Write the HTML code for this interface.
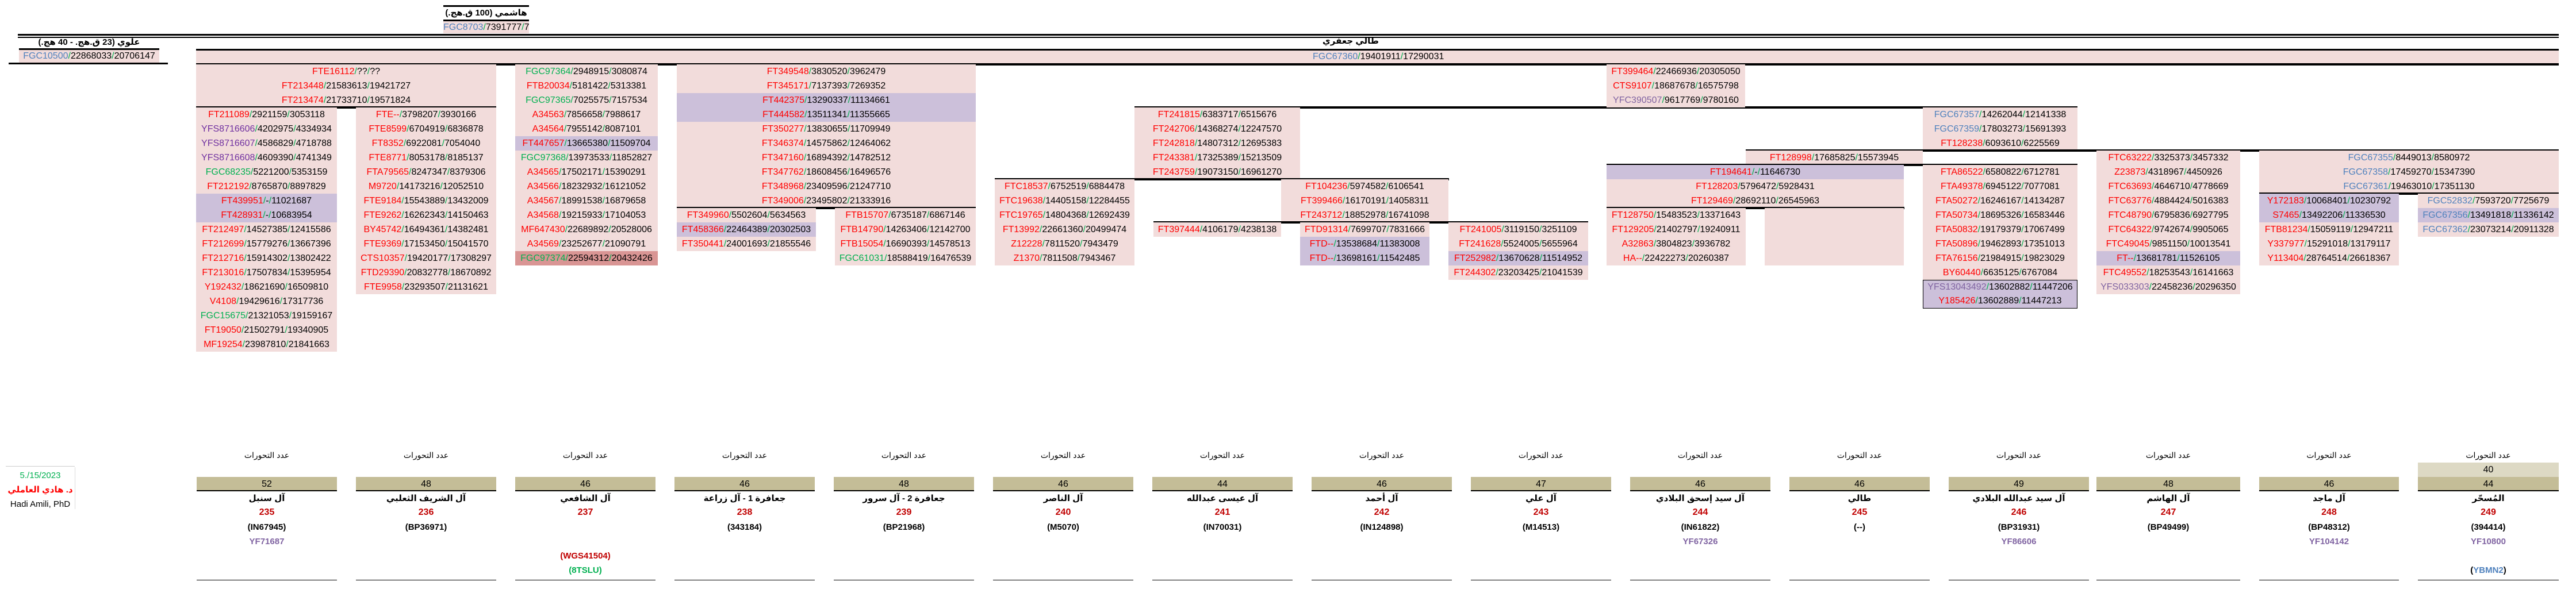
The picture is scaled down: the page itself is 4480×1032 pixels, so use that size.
<!DOCTYPE html>
<html><head><meta charset="utf-8">
<style>
*{margin:0;padding:0;box-sizing:border-box}
body{width:4480px;height:1032px;background:#fff;position:relative;overflow:hidden;font-family:"Liberation Sans","DejaVu Sans",sans-serif;color:#000}
.b{position:absolute;background:#f2dcdb;font-size:16px;text-align:center}
.b div{height:25px;line-height:25px;white-space:nowrap;overflow:hidden}
.b div.l{background:#ccc0da}
.b div.d{background:#d99594}
.h{position:absolute;height:4px;background:#000}
i{font-style:normal;color:#ff0000}
i.p{color:#7030a0}i.q{color:#8064a2}i.u{color:#4f81bd}i.g{color:#00b050}
s{text-decoration:none;color:#00b050}
.ar{position:absolute;font-weight:bold;font-size:15px;text-align:center;white-space:nowrap}
.col{position:absolute;width:244px;top:780px;height:230px;text-align:center}
.col .t{position:absolute;top:4px;width:100%;font-size:14px}
.col .n{position:absolute;top:50px;width:100%;height:25px;line-height:25px;background:#c4bd97;font-size:16px;border-bottom:2px solid #000}
.col .a{position:absolute;top:78px;width:100%;font-weight:bold;font-size:15px}
.col .c{position:absolute;top:103px;width:100%;font-weight:bold;font-size:16px;color:#c00000}
.col .k{position:absolute;top:129px;width:100%;font-weight:bold;font-size:15px}
.col .y{position:absolute;top:154px;width:100%;font-weight:bold;font-size:15px;color:#8064a2}
.col .e{position:absolute;bottom:0;width:100%;border-bottom:1.5px solid #000;top:224px}
</style></head><body>

<div class="h" style="left:771px;top:9px;width:149px;height:3px"></div>
<div class="ar" style="left:771px;top:13px;width:149px">هاشمي (100 ق.هج.)</div>
<div class="h" style="left:771px;top:34px;width:149px;height:3px"></div>
<div class="b" style="left:771px;top:37px;width:149px"><div style="height:21px;line-height:21px"><i class="u">FGC8703</i><s>/</s>7391777<s>/</s>7523736</div></div>

<div class="h" style="left:31px;top:59px;width:4419px;height:3px"></div>
<div class="h" style="left:31px;top:64px;width:4419px;height:1.5px"></div>

<div class="ar" style="left:33px;top:64px;width:244px">علوي (23 ق.هج. - 40 هج.)</div>
<div class="h" style="left:33px;top:84px;width:244px;height:3px"></div>
<div class="b" style="left:33px;top:87px;width:244px"><div style="height:22px;line-height:22px"><i class="u">FGC10500</i><s>/</s>22868033<s>/</s>20706147</div></div>
<div class="h" style="left:15px;top:109px;width:277px;height:3px"></div>

<div class="ar" style="left:2300px;top:62px;width:180px;text-align:left">طالي جعفري</div>
<div class="h" style="left:341px;top:85px;width:4109px"></div>
<div class="b" style="left:341px;top:88px;width:4109px;height:22px"></div>
<div class="b" style="left:2283px;top:88px;width:240px;text-align:left;background:none"><div style="height:22px;line-height:22px"><i class="u">FGC67360</i><s>/</s>19401911<s>/</s>17290031</div></div>
<div class="h" style="left:341px;top:110px;width:4109px"></div>

<div class="b" style="left:341px;top:112px;width:522px">
<div><i>FTE16112</i><s>/</s>??<s>/</s>??</div>
<div><i>FT213448</i><s>/</s>21583613<s>/</s>19421727</div>
<div><i>FT213474</i><s>/</s>21733710<s>/</s>19571824</div>
</div>
<div class="h" style="left:341px;top:185px;width:522px"></div>

<div class="b" style="left:341px;top:187px;width:245px">
<div><i>FT211089</i><s>/</s>2921159<s>/</s>3053118</div>
<div><i class="p">YFS8716606</i><s>/</s>4202975<s>/</s>4334934</div>
<div><i class="p">YFS8716607</i><s>/</s>4586829<s>/</s>4718788</div>
<div><i class="p">YFS8716608</i><s>/</s>4609390<s>/</s>4741349</div>
<div><i class="g">FGC68235</i><s>/</s>5221200<s>/</s>5353159</div>
<div><i>FT212192</i><s>/</s>8765870<s>/</s>8897829</div>
<div class="l"><i>FT439951</i><s>/</s>-<s>/</s>11021687</div>
<div class="l"><i>FT428931</i><s>/</s>-<s>/</s>10683954</div>
<div><i>FT212497</i><s>/</s>14527385<s>/</s>12415586</div>
<div><i>FT212699</i><s>/</s>15779276<s>/</s>13667396</div>
<div><i>FT212716</i><s>/</s>15914302<s>/</s>13802422</div>
<div><i>FT213016</i><s>/</s>17507834<s>/</s>15395954</div>
<div><i>Y192432</i><s>/</s>18621690<s>/</s>16509810</div>
<div><i>V4108</i><s>/</s>19429616<s>/</s>17317736</div>
<div><i class="g">FGC15675</i><s>/</s>21321053<s>/</s>19159167</div>
<div><i>FT19050</i><s>/</s>21502791<s>/</s>19340905</div>
<div><i>MF19254</i><s>/</s>23987810<s>/</s>21841663</div>
</div>

<div class="b" style="left:619px;top:187px;width:244px">
<div><i>FTE--</i><s>/</s>3798207<s>/</s>3930166</div>
<div><i>FTE8599</i><s>/</s>6704919<s>/</s>6836878</div>
<div><i>FT8352</i><s>/</s>6922081<s>/</s>7054040</div>
<div><i>FTE8771</i><s>/</s>8053178<s>/</s>8185137</div>
<div><i>FTA79565</i><s>/</s>8247347<s>/</s>8379306</div>
<div><i>M9720</i><s>/</s>14173216<s>/</s>12052510</div>
<div><i>FTE9184</i><s>/</s>15543889<s>/</s>13432009</div>
<div><i>FTE9262</i><s>/</s>16262343<s>/</s>14150463</div>
<div><i>BY45742</i><s>/</s>16494361<s>/</s>14382481</div>
<div><i>FTE9369</i><s>/</s>17153450<s>/</s>15041570</div>
<div><i>CTS10357</i><s>/</s>19420177<s>/</s>17308297</div>
<div><i>FTD29390</i><s>/</s>20832778<s>/</s>18670892</div>
<div><i>FTE9958</i><s>/</s>23293507<s>/</s>21131621</div>
</div>

<div class="b" style="left:896px;top:112px;width:248px">
<div><i class="g">FGC97364</i><s>/</s>2948915<s>/</s>3080874</div>
<div><i>FTB20034</i><s>/</s>5181422<s>/</s>5313381</div>
<div><i class="g">FGC97365</i><s>/</s>7025575<s>/</s>7157534</div>
<div><i>A34563</i><s>/</s>7856658<s>/</s>7988617</div>
<div><i>A34564</i><s>/</s>7955142<s>/</s>8087101</div>
<div class="l"><i>FT447657</i><s>/</s>13665380<s>/</s>11509704</div>
<div><i class="g">FGC97368</i><s>/</s>13973533<s>/</s>11852827</div>
<div><i>A34565</i><s>/</s>17502171<s>/</s>15390291</div>
<div><i>A34566</i><s>/</s>18232932<s>/</s>16121052</div>
<div><i>A34567</i><s>/</s>18991538<s>/</s>16879658</div>
<div><i>A34568</i><s>/</s>19215933<s>/</s>17104053</div>
<div><i>MF647430</i><s>/</s>22689892<s>/</s>20528006</div>
<div><i>A34569</i><s>/</s>23252677<s>/</s>21090791</div>
<div class="d"><i class="g">FGC97374</i><s>/</s>22594312<s>/</s>20432426</div>
</div>

<div class="b" style="left:1177px;top:112px;width:520px">
<div><i>FT349548</i><s>/</s>3830520<s>/</s>3962479</div>
<div><i>FT345171</i><s>/</s>7137393<s>/</s>7269352</div>
<div class="l"><i>FT442375</i><s>/</s>13290337<s>/</s>11134661</div>
<div class="l"><i>FT444582</i><s>/</s>13511341<s>/</s>11355665</div>
<div><i>FT350277</i><s>/</s>13830655<s>/</s>11709949</div>
<div><i>FT346374</i><s>/</s>14575862<s>/</s>12464062</div>
<div><i>FT347160</i><s>/</s>16894392<s>/</s>14782512</div>
<div><i>FT347762</i><s>/</s>18608456<s>/</s>16496576</div>
<div><i>FT348968</i><s>/</s>23409596<s>/</s>21247710</div>
<div><i>FT349006</i><s>/</s>23495802<s>/</s>21333916</div>
</div>
<div class="h" style="left:1177px;top:360px;width:520px"></div>
<div class="b" style="left:1177px;top:362px;width:242px">
<div><i>FT349960</i><s>/</s>5502604<s>/</s>5634563</div>
<div class="l"><i>FT458366</i><s>/</s>22464389<s>/</s>20302503</div>
<div><i>FT350441</i><s>/</s>24001693<s>/</s>21855546</div>
</div>
<div class="b" style="left:1452px;top:362px;width:245px">
<div><i>FTB15707</i><s>/</s>6735187<s>/</s>6867146</div>
<div><i>FTB14790</i><s>/</s>14263406<s>/</s>12142700</div>
<div><i>FTB15054</i><s>/</s>16690393<s>/</s>14578513</div>
<div><i class="g">FGC61031</i><s>/</s>18588419<s>/</s>16476539</div>
</div>

<div class="h" style="left:1973px;top:185px;width:1640px"></div>
<div class="b" style="left:1973px;top:187px;width:288px">
<div><i>FT241815</i><s>/</s>6383717<s>/</s>6515676</div>
<div><i>FT242706</i><s>/</s>14368274<s>/</s>12247570</div>
<div><i>FT242818</i><s>/</s>14807312<s>/</s>12695383</div>
<div><i>FT243381</i><s>/</s>17325389<s>/</s>15213509</div>
<div><i>FT243759</i><s>/</s>19073150<s>/</s>16961270</div>
</div>
<div class="h" style="left:1730px;top:310px;width:790px"></div>
<div class="b" style="left:1730px;top:312px;width:243px">
<div><i>FTC18537</i><s>/</s>6752519<s>/</s>6884478</div>
<div><i>FTC19638</i><s>/</s>14405158<s>/</s>12284455</div>
<div><i>FTC19765</i><s>/</s>14804368<s>/</s>12692439</div>
<div><i>FT13992</i><s>/</s>22661360<s>/</s>20499474</div>
<div><i>Z12228</i><s>/</s>7811520<s>/</s>7943479</div>
<div><i>Z1370</i><s>/</s>7811508<s>/</s>7943467</div>
</div>
<div class="b" style="left:2228px;top:312px;width:291px">
<div><i>FT104236</i><s>/</s>5974582<s>/</s>6106541</div>
<div><i>FT399466</i><s>/</s>16170191<s>/</s>14058311</div>
<div><i>FT243712</i><s>/</s>18852978<s>/</s>16741098</div>
</div>
<div class="h" style="left:2006px;top:385px;width:756px"></div>
<div class="b" style="left:2006px;top:387px;width:222px">
<div><i>FT397444</i><s>/</s>4106179<s>/</s>4238138</div>
</div>
<div class="b" style="left:2261px;top:387px;width:225px">
<div><i>FTD91314</i><s>/</s>7699707<s>/</s>7831666</div>
<div class="l"><i>FTD--</i><s>/</s>13538684<s>/</s>11383008</div>
<div class="l"><i>FTD--</i><s>/</s>13698161<s>/</s>11542485</div>
</div>
<div class="b" style="left:2519px;top:387px;width:243px">
<div><i>FT241005</i><s>/</s>3119150<s>/</s>3251109</div>
<div><i>FT241628</i><s>/</s>5524005<s>/</s>5655964</div>
<div class="l"><i>FT252982</i><s>/</s>13670628<s>/</s>11514952</div>
<div><i>FT244302</i><s>/</s>23203425<s>/</s>21041539</div>
</div>

<div class="b" style="left:2794px;top:112px;width:241px">
<div><i>FT399464</i><s>/</s>22466936<s>/</s>20305050</div>
<div><i>CTS9107</i><s>/</s>18687678<s>/</s>16575798</div>
<div><i class="q">YFC390507</i><s>/</s>9617769<s>/</s>9780160</div>
</div>
<div class="b" style="left:3344px;top:187px;width:269px">
<div><i class="u">FGC67357</i><s>/</s>14262044<s>/</s>12141338</div>
<div><i class="u">FGC67359</i><s>/</s>17803273<s>/</s>15691393</div>
<div><i>FT128238</i><s>/</s>6093610<s>/</s>6225569</div>
</div>
<div class="h" style="left:3036px;top:260px;width:1414px"></div>
<div class="b" style="left:3036px;top:262px;width:308px">
<div><i>FT128998</i><s>/</s>17685825<s>/</s>15573945</div>
</div>
<div class="h" style="left:2794px;top:285px;width:819px"></div>
<div class="b" style="left:2794px;top:287px;width:517px">
<div class="l"><i>FT194641</i><s>/</s>-<s>/</s>11646730</div>
<div><i>FT128203</i><s>/</s>5796472<s>/</s>5928431</div>
<div><i>FT129469</i><s>/</s>28692110<s>/</s>26545963</div>
</div>
<div class="h" style="left:2794px;top:360px;width:518px"></div>
<div class="b" style="left:2794px;top:362px;width:242px">
<div><i>FT128750</i><s>/</s>15483523<s>/</s>13371643</div>
<div><i>FT129205</i><s>/</s>21402797<s>/</s>19240911</div>
<div><i>A32863</i><s>/</s>3804823<s>/</s>3936782</div>
<div><i>HA--</i><s>/</s>22422273<s>/</s>20260387</div>
</div>
<div class="b" style="left:3069px;top:362px;width:242px;height:100px"></div>
<div class="b" style="left:3344px;top:287px;width:269px">
<div><i>FTA86522</i><s>/</s>6580822<s>/</s>6712781</div>
<div><i>FTA49378</i><s>/</s>6945122<s>/</s>7077081</div>
<div><i>FTA50272</i><s>/</s>16246167<s>/</s>14134287</div>
<div><i>FTA50734</i><s>/</s>18695326<s>/</s>16583446</div>
<div><i>FTA50832</i><s>/</s>19179379<s>/</s>17067499</div>
<div><i>FTA50896</i><s>/</s>19462893<s>/</s>17351013</div>
<div><i>FTA76156</i><s>/</s>21984915<s>/</s>19823029</div>
<div><i>BY60440</i><s>/</s>6635125<s>/</s>6767084</div>
<div style="height:50px;border:1.5px solid #000;background:#ccc0da">
<div style="height:23.5px;line-height:23.5px"><i class="q">YFS13043492</i><s>/</s>13602882<s>/</s>11447206</div>
<div style="height:23.5px;line-height:23.5px"><i>Y185426</i><s>/</s>13602889<s>/</s>11447213</div>
</div>
</div>
<div class="b" style="left:3646px;top:262px;width:250px">
<div><i>FTC63222</i><s>/</s>3325373<s>/</s>3457332</div>
<div><i>Z23873</i><s>/</s>4318967<s>/</s>4450926</div>
<div><i>FTC63693</i><s>/</s>4646710<s>/</s>4778669</div>
<div><i>FTC63776</i><s>/</s>4884424<s>/</s>5016383</div>
<div><i>FTC48790</i><s>/</s>6795836<s>/</s>6927795</div>
<div><i>FTC64322</i><s>/</s>9742674<s>/</s>9905065</div>
<div><i>FTC49045</i><s>/</s>9851150<s>/</s>10013541</div>
<div class="l"><i>FT--</i><s>/</s>13681781<s>/</s>11526105</div>
<div><i>FTC49552</i><s>/</s>18253543<s>/</s>16141663</div>
<div><i class="q">YFS033303</i><s>/</s>22458236<s>/</s>20296350</div>
</div>
<div class="b" style="left:3929px;top:262px;width:521px">
<div><i class="u">FGC67355</i><s>/</s>8449013<s>/</s>8580972</div>
<div><i class="u">FGC67358</i><s>/</s>17459270<s>/</s>15347390</div>
<div><i class="u">FGC67361</i><s>/</s>19463010<s>/</s>17351130</div>
</div>
<div class="h" style="left:3929px;top:335px;width:521px"></div>
<div class="b" style="left:3929px;top:337px;width:243px">
<div class="l"><i>Y172183</i><s>/</s>10068401<s>/</s>10230792</div>
<div class="l"><i>S7465</i><s>/</s>13492206<s>/</s>11336530</div>
<div><i>FTB81234</i><s>/</s>15059119<s>/</s>12947211</div>
<div><i>Y337977</i><s>/</s>15291018<s>/</s>13179117</div>
<div><i>Y113404</i><s>/</s>28764514<s>/</s>26618367</div>
</div>
<div class="b" style="left:4205px;top:337px;width:245px">
<div><i class="u">FGC52832</i><s>/</s>7593720<s>/</s>7725679</div>
<div class="l"><i class="u">FGC67356</i><s>/</s>13491818<s>/</s>11336142</div>
<div><i class="u">FGC67362</i><s>/</s>23073214<s>/</s>20911328</div>
</div>

<div style="position:absolute;left:10px;top:811px;width:120px;border-top:1px solid #ccc"></div>
<div style="position:absolute;left:130px;top:813px;height:73px;border-left:1px solid #ddd"></div>
<div style="position:absolute;left:10px;top:815px;width:120px;text-align:center;font-size:15px;line-height:25px">
<div style="color:#00b050">5./15/2023</div>
<div style="color:#ff0000;font-weight:bold">د. هادي العاملي</div>
<div>Hadi Amili, PhD</div>
</div>

<div class="col" style="left:342px"><div class="t">عدد التحورات</div><div class="n">52</div><div class="a">آل سنبل</div><div class="c">235</div><div class="k">(IN67945)</div><div class="y">YF71687</div><div class="e"></div></div>
<div class="col" style="left:619px"><div class="t">عدد التحورات</div><div class="n">48</div><div class="a">آل الشريف الثعلبي</div><div class="c">236</div><div class="k">(BP36971)</div><div class="e"></div></div>
<div class="col" style="left:896px"><div class="t">عدد التحورات</div><div class="n">46</div><div class="a">آل الشافعي</div><div class="c">237</div><div class="k" style="top:179px;color:#c00000">(WGS41504)</div><div class="k" style="top:204px"><span style="color:#00b050">(8TSLU)</span></div><div class="e"></div></div>
<div class="col" style="left:1173px"><div class="t">عدد التحورات</div><div class="n">46</div><div class="a">جعافرة 1 - آل زراعة</div><div class="c">238</div><div class="k">(343184)</div><div class="e"></div></div>
<div class="col" style="left:1450px"><div class="t">عدد التحورات</div><div class="n">48</div><div class="a">جعافرة 2 - آل سرور</div><div class="c">239</div><div class="k">(BP21968)</div><div class="e"></div></div>
<div class="col" style="left:1727px"><div class="t">عدد التحورات</div><div class="n">46</div><div class="a">آل الناصر</div><div class="c">240</div><div class="k">(M5070)</div><div class="e"></div></div>
<div class="col" style="left:2004px"><div class="t">عدد التحورات</div><div class="n">44</div><div class="a">آل عيسى عبدالله</div><div class="c">241</div><div class="k">(IN70031)</div><div class="e"></div></div>
<div class="col" style="left:2281px"><div class="t">عدد التحورات</div><div class="n">46</div><div class="a">آل أحمد</div><div class="c">242</div><div class="k">(IN124898)</div><div class="e"></div></div>
<div class="col" style="left:2558px"><div class="t">عدد التحورات</div><div class="n">47</div><div class="a">آل علي</div><div class="c">243</div><div class="k">(M14513)</div><div class="e"></div></div>
<div class="col" style="left:2835px"><div class="t">عدد التحورات</div><div class="n">46</div><div class="a">آل سيد إسحق البلادي</div><div class="c">244</div><div class="k">(IN61822)</div><div class="y">YF67326</div><div class="e"></div></div>
<div class="col" style="left:3112px"><div class="t">عدد التحورات</div><div class="n">46</div><div class="a">طالي</div><div class="c">245</div><div class="k">(--)</div><div class="e"></div></div>
<div class="col" style="left:3389px"><div class="t">عدد التحورات</div><div class="n">49</div><div class="a">آل سيد عبدالله البلادي</div><div class="c">246</div><div class="k">(BP31931)</div><div class="y">YF86606</div><div class="e"></div></div>
<div class="col" style="left:3646px;width:250px"><div class="t">عدد التحورات</div><div class="n">48</div><div class="a">آل الهاشم</div><div class="c">247</div><div class="k">(BP49499)</div><div class="e"></div></div>
<div class="col" style="left:3929px;width:243px"><div class="t">عدد التحورات</div><div class="n">46</div><div class="a">آل ماجد</div><div class="c">248</div><div class="k">(BP48312)</div><div class="y">YF104142</div><div class="e"></div></div>
<div class="col" style="left:4205px;width:245px"><div class="t">عدد التحورات</div><div class="n" style="top:25px;background:#ddd9c4;border:none">40</div><div class="n">44</div><div class="a">المُسحّر</div><div class="c">249</div><div class="k">(394414)</div><div class="y">YF10800</div><div class="k" style="top:204px">(<span style="color:#4f81bd">YBMN2</span>)</div><div class="e"></div></div>

</body></html>
